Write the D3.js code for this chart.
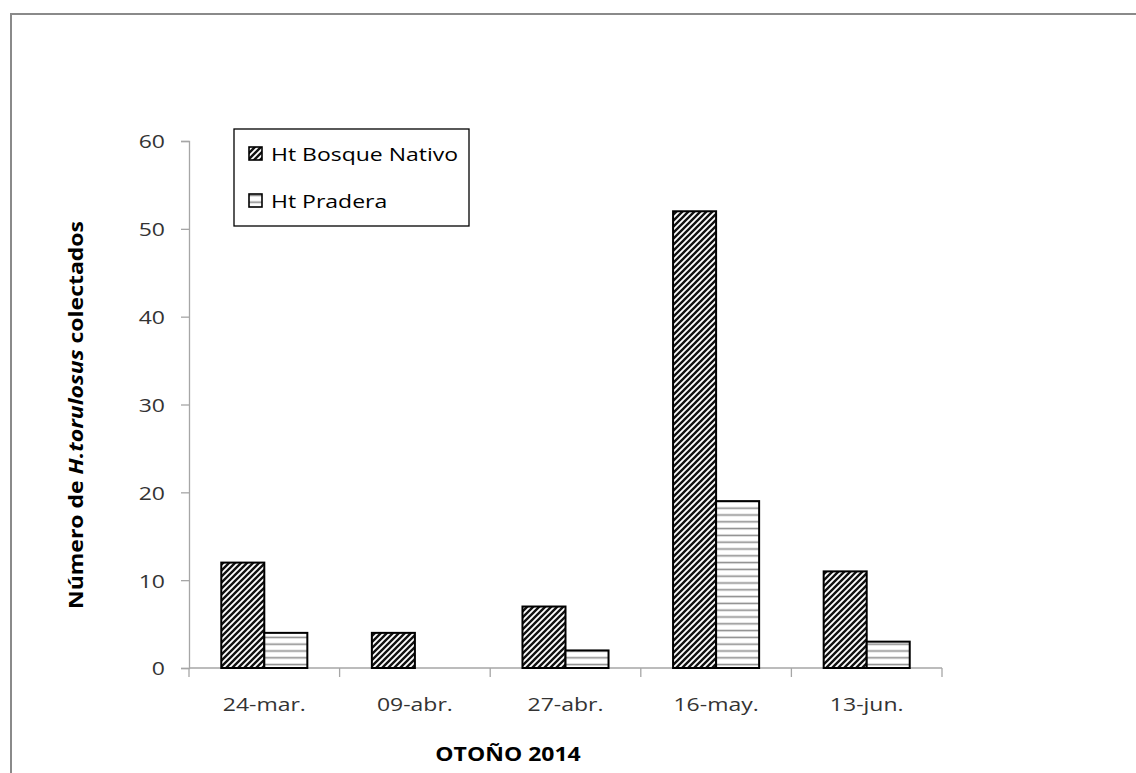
<!DOCTYPE html>
<html>
<head>
<meta charset="utf-8">
<script src="https://cdn.jsdelivr.net/npm/d3@7/dist/d3.min.js"></script>
<style>
  html, body { margin: 0; padding: 0; background: #fff; }
  svg { display: block; }
  text { font-family: "Open Sans", Lato, sans-serif; }
</style>
</head>
<body>
<svg id="chart" width="1136" height="773"></svg>
<script>
// Sampling dates (autumn 2014)
const categories = ["24-mar.", "09-abr.", "27-abr.", "16-may.", "13-jun."];
// Ticks collected per habitat
const bosqueNativo = [12, 4, 7, 52, 11];
const pradera = [4, 0, 2, 19, 3];
const seriesNames = ["Ht Bosque Nativo", "Ht Pradera"];
const yTicks = [0, 10, 20, 30, 40, 50, 60];

// glyphs are drawn slightly wide
const SX = 1.21;

const svg = d3.select("#chart");

// frame of the chart area
svg.append("path")
  .attr("d", "M11,773 V14 H1136")
  .attr("fill", "none")
  .attr("stroke", "#8a8a8a")
  .attr("stroke-width", 2);

const defs = svg.append("defs");
// dark upward diagonal hatch
const pDiag = defs.append("pattern")
  .attr("id", "diag")
  .attr("patternUnits", "userSpaceOnUse")
  .attr("width", 6).attr("height", 6);
pDiag.append("rect").attr("width", 6).attr("height", 6).attr("fill", "#fff");
pDiag.append("path")
  .attr("d", "M-1,1 L1,-1 M0,6 L6,0 M5,7 L7,5")
  .attr("stroke", "#111").attr("stroke-width", 2.4);
// horizontal line hatch
const pHorz = defs.append("pattern")
  .attr("id", "horz")
  .attr("patternUnits", "userSpaceOnUse")
  .attr("width", 8).attr("height", 6.8)
  .attr("y", 668);
pHorz.append("rect").attr("width", 8).attr("height", 6.8).attr("fill", "#fff");
pHorz.append("line")
  .attr("x1", 0).attr("x2", 8).attr("y1", 3.4).attr("y2", 3.4)
  .attr("stroke", "#8c8c8c").attr("stroke-width", 1.6);

const plotLeft = 189, plotRight = 942, plotTop = 141, plotBottom = 668;

const x = d3.scaleBand().domain(categories).range([plotLeft, plotRight]).paddingInner(0).paddingOuter(0);
const y = d3.scaleLinear().domain([0, 60]).range([plotBottom, plotTop]);

const barW = x.bandwidth() / 3.5;

// y axis
const yAxis = svg.append("g")
  .attr("transform", `translate(${plotLeft},0)`)
  .call(d3.axisLeft(y).tickValues(yTicks).tickSize(8).tickPadding(10));
yAxis.select(".domain").attr("stroke", "#a6a6a6").attr("stroke-width", 1.3);
yAxis.selectAll(".tick line").attr("stroke", "#a6a6a6").attr("stroke-width", 1.3);
yAxis.selectAll(".tick text")
  .attr("x", null)
  .attr("dy", "0.36em")
  .attr("transform", `translate(-24,0) scale(${SX},1)`)
  .attr("fill", "#333")
  .style("font-size", "19px")
  .style("font-family", "'Open Sans', sans-serif");

// x axis with ticks between categories
const xAxisG = svg.append("g").attr("transform", `translate(0,${plotBottom})`);
xAxisG.append("line")
  .attr("x1", plotLeft).attr("x2", plotRight).attr("y1", 0).attr("y2", 0)
  .attr("stroke", "#a6a6a6").attr("stroke-width", 1.3);
const boundaries = categories.map(c => x(c)).concat([plotRight]);
xAxisG.selectAll("line.tk").data(boundaries).join("line")
  .attr("class", "tk")
  .attr("x1", d => d).attr("x2", d => d)
  .attr("y1", 0).attr("y2", 9)
  .attr("stroke", "#a6a6a6").attr("stroke-width", 1.3);
xAxisG.selectAll("text").data(categories).join("text")
  .attr("transform", d => `translate(${x(d) + x.bandwidth() / 2},43) scale(${SX},1)`)
  .attr("text-anchor", "middle")
  .attr("fill", "#333")
  .style("font-size", "19px")
  .text(d => d);

// bars
const series = [
  { name: seriesNames[0], values: bosqueNativo, fill: "url(#diag)", offset: -1 },
  { name: seriesNames[1], values: pradera, fill: "url(#horz)", offset: 0 }
];
series.forEach(s => {
  svg.append("g").selectAll("rect")
    .data(categories.map((c, i) => ({ c, v: s.values[i] })).filter(d => d.v > 0))
    .join("rect")
    .attr("x", d => x(d.c) + x.bandwidth() / 2 + s.offset * barW)
    .attr("y", d => y(d.v))
    .attr("width", barW)
    .attr("height", d => y(0) - y(d.v))
    .attr("fill", s.fill)
    .attr("stroke", "#000")
    .attr("stroke-width", 2);
});

// axis titles
svg.append("text")
  .attr("transform", `translate(508,761) scale(${SX},1)`)
  .attr("text-anchor", "middle")
  .style("font-size", "19px").style("font-weight", "bold")
  .attr("fill", "#000")
  .text("OTOÑO 2014");

const yt = svg.append("text")
  .attr("transform", `translate(83,415) rotate(-90) scale(${SX},1)`)
  .attr("text-anchor", "middle")
  .style("font-size", "19px").style("font-weight", "bold")
  .attr("fill", "#000");
yt.append("tspan").text("Número de ");
yt.append("tspan").style("font-style", "italic").text("H.torulosus");
yt.append("tspan").text(" colectados");

// legend
const lg = svg.append("g");
lg.append("rect")
  .attr("x", 234).attr("y", 129).attr("width", 235).attr("height", 97)
  .attr("fill", "#fff").attr("stroke", "#000").attr("stroke-width", 1.3);
series.forEach((s, i) => {
  const base = 161 + i * 47;
  lg.append("rect")
    .attr("x", 249).attr("y", base - 14).attr("width", 13).attr("height", 13)
    .attr("fill", s.fill).attr("stroke", "#000").attr("stroke-width", 1.6);
  lg.append("text")
    .attr("transform", `translate(271,${base}) scale(${SX},1)`)
    .attr("fill", "#000")
    .style("font-size", "19px")
    .text(s.name);
});
</script>
</body>
</html>
